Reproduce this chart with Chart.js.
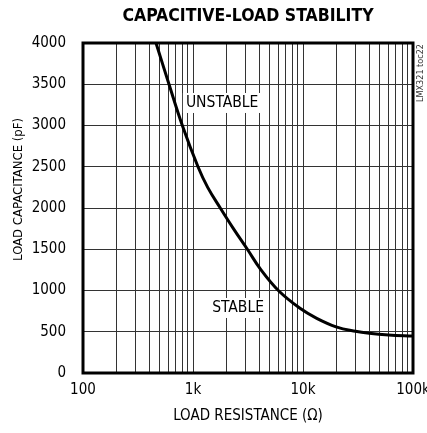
<!DOCTYPE html>
<html>
<head>
<meta charset="utf-8">
<script src="https://cdn.jsdelivr.net/npm/chart.js@4/dist/chart.umd.min.js"></script>
<style>
  html, body { margin: 0; padding: 0; background: #fff; }
  #wrap { width: 427px; height: 433px; }
</style>
</head>
<body>
<div id="wrap"><canvas id="stability-chart"></canvas></div>
<script>
// datos
const resistencia = [461, 605, 800, 1110, 1360, 1770, 2330, 3120, 4150, 5970, 9390, 13330, 20000, 30000, 40000, 60000, 100000]
const capacitancia = [4000, 3500, 3000, 2500, 2250, 2000, 1750, 1500, 1250, 1000, 784, 663, 560, 505, 481, 461, 448]
const ticksX = [100, 200, 300, 400, 500, 600, 700, 800, 900, 1000, 2000, 3000, 4000, 5000, 6000, 7000, 8000, 9000, 10000, 20000, 30000, 40000, 50000, 60000, 70000, 80000, 90000, 100000]
const etiquetasX = { 100: "100", 1000: "1k", 10000: "10k", 100000: "100k" }
const regiones = [
  { texto: "UNSTABLE", x: 1840, y: 3273 },
  { texto: "STABLE", x: 2570, y: 788 },
]

const fuente = "'Liberation Sans Narrow', 'DejaVu Sans Condensed', sans-serif"

//* plugin: etiquetas con fondo blanco, marco y nota lateral
const extras = {
  id: "extras",
  beforeDatasetsDraw(chart) {
    const ctx = chart.ctx
    const sx = chart.scales.x
    const sy = chart.scales.y
    ctx.save()
    ctx.font = "15.5px " + fuente
    ctx.textAlign = "center"
    ctx.textBaseline = "middle"
    regiones.forEach(r => {
      const px = sx.getPixelForValue(r.x)
      const py = sy.getPixelForValue(r.y)
      const w = ctx.measureText(r.texto).width
      ctx.fillStyle = "#fff"
      ctx.fillRect(px - w / 2 - 3, py - 10, w + 6, 20)
      ctx.fillStyle = "#000"
      ctx.fillText(r.texto, px, py)
    })
    ctx.restore()
  },
  afterDraw(chart) {
    const ctx = chart.ctx
    const a = chart.chartArea
    ctx.save()
    ctx.strokeStyle = "#000"
    ctx.lineWidth = 3
    ctx.strokeRect(a.left, a.top, a.right - a.left, a.bottom - a.top)
    // nota lateral
    ctx.translate(421, 44)
    ctx.rotate(-Math.PI / 2)
    ctx.font = "9px " + fuente
    ctx.fillStyle = "#333"
    ctx.textAlign = "right"
    ctx.textBaseline = "middle"
    ctx.fillText("LMX321 toc22", 0, 0)
    ctx.restore()
  }
}

const contenedor = document.querySelector("#stability-chart").getContext("2d")
const grafico = new Chart(contenedor, {
  type: "line",
  data: {
    datasets: [
      {
        data: resistencia.map((r, i) => ({ x: r, y: capacitancia[i] })),
        borderColor: "#000",
        borderWidth: 3,
        pointRadius: 0,
        tension: 0.4,
        fill: false,
      },
    ],
  },
  options: {
    responsive: true,
    maintainAspectRatio: false,
    animation: false,
    layout: { padding: { left: 0, right: 14, top: 0, bottom: 0 } },
    plugins: {
      legend: { display: false },
      tooltip: { enabled: false },
      title: {
        display: true,
        fullSize: false,
        text: "CAPACITIVE-LOAD STABILITY",
        color: "#000",
        font: { family: fuente, size: 17.5, weight: "bold" },
        padding: { top: 6, bottom: 16 },
      },
    },
    scales: {
      x: {
        type: "logarithmic",
        min: 100,
        max: 100000,
        afterBuildTicks: scale => { scale.ticks = ticksX.map(v => ({ value: v })) },
        afterFit: scale => {
          scale.height = 60
          scale.paddingLeft = 0
          scale.paddingRight = 0
        },
        grid: { color: "#333", lineWidth: 1, drawTicks: false },
        border: { display: false },
        ticks: {
          autoSkip: false,
          maxRotation: 0,
          padding: 8,
          color: "#000",
          font: { family: fuente, size: 15 },
          callback: v => etiquetasX[v] || "",
        },
        title: {
          display: true,
          text: "LOAD RESISTANCE (Ω)",
          color: "#000",
          font: { family: fuente, size: 15 },
          padding: { top: 0, bottom: 8 },
        },
      },
      y: {
        min: 0,
        max: 4000,
        afterFit: scale => { scale.width = 83 },
        grid: { color: "#333", lineWidth: 1, drawTicks: false },
        border: { display: false },
        ticks: {
          stepSize: 500,
          padding: 17,
          color: "#000",
          font: { family: fuente, size: 15 },
          callback: v => String(v),
        },
        title: {
          display: true,
          // espacios al inicio para subir el texto como en el original
          text: "          LOAD CAPACITANCE (pF)",
          color: "#000",
          font: { family: fuente, size: 13 },
          padding: { top: 11, bottom: 0 },
        },
      },
    },
  },
  plugins: [extras],
})
</script>
</body>
</html>
